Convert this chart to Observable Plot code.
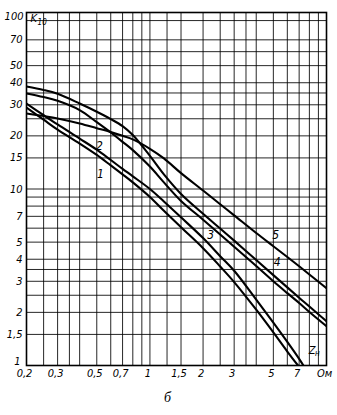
<!DOCTYPE html>
<html>
<head>
<meta charset="utf-8">
<script src="https://cdn.jsdelivr.net/npm/d3@7"></script>
<script src="https://cdn.jsdelivr.net/npm/@observablehq/plot@0.6"></script>
<style>
  html, body { margin: 0; padding: 0; background: #fff; }
</style>
</head>
<body>
<div id="chart"></div>
<script>
// Axis ticks and grid
const xTicks = [0.2, 0.3, 0.5, 0.7, 1, 1.5, 2, 3, 5, 7, 10];
const yTicks = [1, 1.5, 2, 3, 4, 5, 7, 10, 15, 20, 30, 40, 50, 70, 100];
const xGrid = [0.25, 0.3, 0.35, 0.4, 0.5, 0.6, 0.7, 0.8, 0.9, 1, 1.25, 1.5, 2, 2.5, 3, 3.5, 4, 5, 6, 7, 8, 9];
const yGrid = [1.5, 2, 2.5, 3, 3.5, 4, 5, 6, 7, 8, 9, 10, 15, 20, 25, 30, 35, 40, 50, 60, 70, 90];

// Curves: Zн (Ом) -> K10
const zn = [0.2, 0.25, 0.3, 0.4, 0.5, 0.6, 0.7, 0.8, 1, 1.2, 1.5, 2, 2.5, 3, 4, 5, 6, 7, 8, 10];
const k3 = [34.8, 33.2, 31.6, 28.0, 23.9, 20.9, 18.5, 16.6, 13.4, 10.9, 8.56, 6.70, 5.52, 4.71, 3.66, 3.00, 2.57, 2.26, 2.01, 1.67];
const k4 = [38.1, 36.4, 34.6, 30.5, 27.4, 24.9, 22.7, 20.2, 15.4, 12.1, 9.38, 7.24, 5.97, 5.10, 3.96, 3.25, 2.77, 2.42, 2.16, 1.78];
const k5 = [26.8, 25.9, 25.1, 23.5, 22.1, 21.0, 20.0, 19.1, 16.9, 14.9, 12.3, 9.80, 8.20, 7.09, 5.63, 4.74, 4.12, 3.65, 3.28, 2.74];
const zn1 = [0.2, 0.25, 0.3, 0.4, 0.5, 0.6, 0.7, 0.8, 1, 1.2, 1.5, 2, 2.5, 3, 4, 5, 6, 6.9];
const k1 = [28.9, 24.7, 21.7, 18.1, 15.6, 13.6, 12.1, 10.9, 9.01, 7.52, 6.07, 4.62, 3.64, 2.97, 2.07, 1.54, 1.20, 1.0];
const zn2 = [0.2, 0.25, 0.3, 0.4, 0.5, 0.6, 0.7, 0.8, 1, 1.2, 1.5, 2, 2.5, 3, 4, 5, 6, 7, 7.4];
const k2 = [30.5, 26.2, 23.2, 19.3, 16.7, 14.6, 13.0, 11.8, 10.0, 8.50, 6.91, 5.27, 4.16, 3.44, 2.36, 1.75, 1.36, 1.09, 1.0];

// Curve labels
const labelText = ["1", "2", "3", "4", "5"];
const labelX = [0.525, 0.518, 2.21, 5.25, 5.15];
const labelY = [12.2, 17.6, 5.45, 3.83, 5.45];

const fmtX = d => d === 10 ? "Ом" : String(d).replace(".", ",");
const fmtY = d => String(d).replace(".", ",");
const font = "'Liberation Sans Narrow', 'DejaVu Sans Condensed', 'DejaVu Sans', sans-serif";
const curveStyle = {stroke: "#000", strokeWidth: 2.1, curve: "catmull-rom", clip: true};

const chart = Plot.plot({
  width: 337,
  height: 415,
  marginLeft: 26,
  marginRight: 11,
  marginTop: 12,
  marginBottom: 50,
  style: {fontFamily: font, fontStyle: "italic", fontSize: "11px", background: "#fff", color: "#000"},
  x: {type: "log", domain: [0.2, 10], axis: null},
  y: {type: "log", domain: [1, 100], axis: null},
  marks: [
    Plot.ruleX(xGrid, {stroke: "#000", strokeWidth: 1, strokeOpacity: 0.85}),
    Plot.ruleY(yGrid, {stroke: "#000", strokeWidth: 1, strokeOpacity: 0.85}),
    Plot.frame({stroke: "#000", strokeWidth: 1.6}),
    // x tick labels
    Plot.text(xTicks, {x: d => d, frameAnchor: "bottom", lineAnchor: "top", dy: 4, dx: -2, text: fmtX, fontSize: 11, fill: "#000"}),
    // y tick labels
    Plot.text(yTicks.filter(d => d > 1 && d < 100), {y: d => d, frameAnchor: "left", textAnchor: "end", dx: -4, text: fmtY, fontSize: 11, fill: "#000"}),
    Plot.text([1], {y: d => d, frameAnchor: "left", textAnchor: "end", dx: -6, dy: -4, text: fmtY, fontSize: 11, fill: "#000"}),
    Plot.text([100], {y: d => d, frameAnchor: "left", textAnchor: "end", dx: -3, dy: 4, text: fmtY, fontSize: 11, fill: "#000"}),
    Plot.line(zn1, {x: zn1, y: k1, ...curveStyle}),
    Plot.line(zn2, {x: zn2, y: k2, ...curveStyle}),
    Plot.line(zn, {x: zn, y: k3, ...curveStyle}),
    Plot.line(zn, {x: zn, y: k4, ...curveStyle}),
    Plot.line(zn, {x: zn, y: k5, ...curveStyle}),
    Plot.text(labelText, {x: labelX, y: labelY, text: d => d, fontSize: 12, fill: "#000"}),
    Plot.text(["K"], {x: [0.211], y: [92], text: d => d, textAnchor: "start", fontSize: 11, fill: "#000"}),
    Plot.text(["10"], {x: [0.211], y: [92], text: d => d, textAnchor: "start", dx: 7, dy: 4, fontSize: 8, fill: "#000"}),
    Plot.text(["Z"], {x: [8.29], y: [1.21], text: d => d, fontSize: 11, fill: "#000"}),
    Plot.text(["н"], {x: [8.29], y: [1.21], text: d => d, textAnchor: "start", dx: 3, dy: 3, fontSize: 8, fill: "#000"}),
    Plot.text(["б"], {frameAnchor: "bottom", text: d => d, dx: -9, dy: 36, fontSize: 14, fontFamily: "'Liberation Serif', serif", fill: "#000"})
  ]
});
document.getElementById("chart").appendChild(chart);
</script>
</body>
</html>
